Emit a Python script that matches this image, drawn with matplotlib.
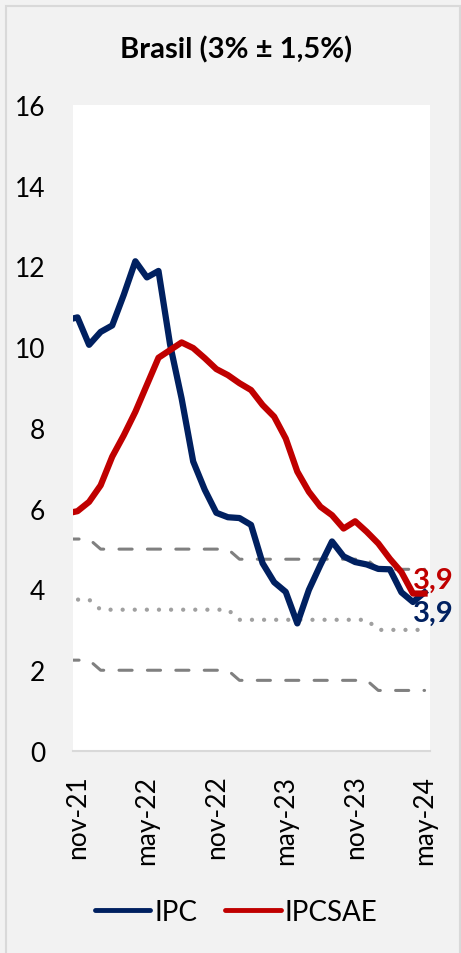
import matplotlib
matplotlib.use("Agg")
import matplotlib.pyplot as plt
from matplotlib.patches import Rectangle

plt.rcParams['font.family'] = ['Lato', 'DejaVu Sans']

# Monthly data, oct-21 .. may-24 (oct-21 only partially visible at the left edge)
months = ["oct-21", "nov-21", "dec-21", "jan-22", "feb-22", "mar-22", "apr-22", "may-22", "jun-22",
          "jul-22", "aug-22", "sep-22", "oct-22", "nov-22", "dec-22", "jan-23", "feb-23", "mar-23",
          "apr-23", "may-23", "jun-23", "jul-23", "aug-23", "sep-23", "oct-23", "nov-23", "dec-23",
          "jan-24", "feb-24", "mar-24", "apr-24", "may-24"]
ipc = [10.67, 10.74, 10.06, 10.38, 10.54, 11.30, 12.13, 11.73, 11.89, 10.07, 8.73, 7.17, 6.47,
       5.90, 5.79, 5.77, 5.60, 4.65, 4.18, 3.94, 3.16, 3.99, 4.61, 5.19, 4.82, 4.68, 4.62,
       4.51, 4.50, 3.93, 3.69, 3.93]
ipcsae = [5.88, 5.94, 6.17, 6.58, 7.29, 7.82, 8.40, 9.07, 9.74, 9.93, 10.12, 9.98, 9.73,
          9.46, 9.31, 9.11, 8.94, 8.57, 8.28, 7.74, 6.92, 6.42, 6.05, 5.84, 5.51, 5.69, 5.43,
          5.14, 4.76, 4.43, 3.90, 3.90]
target = [3.75, 3.75, 3.75] + [3.5] * 12 + [3.25] * 12 + [3.0] * 5
band = 1.5
upper = [t + band for t in target]
lower = [t - band for t in target]

tick_labels = ["nov-21", "may-22", "nov-22", "may-23", "nov-23", "may-24"]
last_label_ipc = "3,9"
last_label_sae = "3,9"

BLUE = "#002060"
RED = "#C00000"

x = list(range(-1, len(months) - 1))  # nov-21 = 0

fig = plt.figure(figsize=(4.61, 9.54), dpi=100, facecolor="#f2f2f2")
fig.patches.append(Rectangle((6 / 461, -0.01), 454 / 461, 1 - 7 / 954 + 0.01,
                             transform=fig.transFigure, fill=False,
                             edgecolor="#d9d9d9", linewidth=1.5))
ax = fig.add_axes([73 / 461, 1 - 752 / 954, (430 - 73) / 461, (752 - 106) / 954])
ax.set_facecolor("white")

ax.plot(x, upper, color="#808080", lw=2.2, dashes=(4.3, 5.0), dash_capstyle="round",
        zorder=2)
ax.plot(x, lower, color="#808080", lw=2.2, dashes=(4.3, 5.0), dash_capstyle="round",
        zorder=2)
ax.plot(x, target, color="#a0a0a0", lw=3.1, dashes=(0.01, 2.8), dash_capstyle="round",
        zorder=2)

l1, = ax.plot(x, ipc, color=BLUE, lw=4.5, label="IPC", zorder=3)
l2, = ax.plot(x, ipcsae, color=RED, lw=4.5, label="IPCSAE", zorder=3)

ax.set_xlim(-0.39, 30.47)
ax.set_ylim(0, 16)
ax.set_yticks(range(0, 17, 2))
tick_pos = [months.index(t) - 1 for t in tick_labels]
ax.set_xticks(tick_pos)
ax.set_xticklabels(tick_labels, rotation=90, fontsize=19)
ax.tick_params(axis="y", labelsize=19, length=0, pad=20)
ax.tick_params(axis="x", length=0, pad=17)
for s in ["top", "right", "left"]:
    ax.spines[s].set_visible(False)
ax.spines["bottom"].set_color("#d9d9d9")
ax.spines["bottom"].set_linewidth(1.5)

ax.annotate(last_label_sae, (x[-1], ipcsae[-1]), xytext=(-8, 10), textcoords="offset points",
            color=RED, fontsize=21, fontweight="bold", va="center", ha="left",
            annotation_clip=False, zorder=4)
ax.annotate(last_label_ipc, (x[-1], ipc[-1]), xytext=(-8, -15), textcoords="offset points",
            color=BLUE, fontsize=21, fontweight="bold", va="center", ha="left",
            annotation_clip=False, zorder=4)

fig.text(236 / 461, 1 - 50 / 954, "Brasil (3% ± 1,5%)", ha="center", va="center",
         fontsize=21, fontweight="bold")

fig.legend(handles=[l1, l2], loc="center", bbox_to_anchor=(236 / 461, 1 - 913 / 954),
           ncol=2, frameon=False, fontsize=20, handlelength=2.0, handletextpad=0.15,
           columnspacing=1.0)
for h in fig.legends[0].get_lines():
    h.set_linewidth(3.5)
    h.set_solid_capstyle("round")

fig.savefig("out.png", dpi=100, facecolor=fig.get_facecolor())
